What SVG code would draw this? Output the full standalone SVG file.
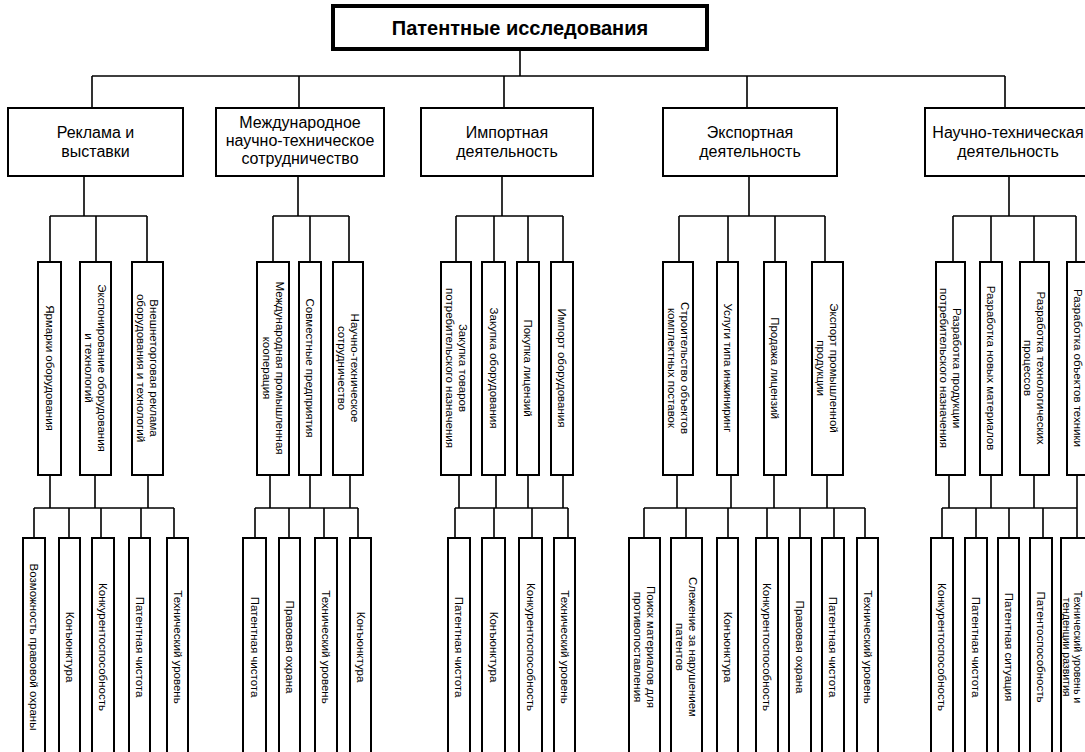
<svg xmlns="http://www.w3.org/2000/svg" width="1085" height="752" viewBox="0 0 1085 752">
<style>
.bx{fill:#fff;stroke:#000;stroke-width:2}
.tb{fill:#fff;stroke:#000;stroke-width:4}
.c{stroke:#000;stroke-width:1.6;fill:none}
text{font-family:"Liberation Sans",Arial,sans-serif;fill:#000}
.tt{font-size:20px;font-weight:bold;text-anchor:middle}
.l1{font-size:16px;text-anchor:middle}
.r{font-size:11.5px;text-anchor:middle}
</style>
<rect width="1085" height="752" fill="#fff"/>
<g id="connectors">
<path class="c" d="M520 49V76M92 76H1005M92 76V108M299 76V108M504 76V108M747 76V108M1005 76V108"/>
<path class="c" d="M84 176V216M50 216H147M50 216V262M96 216V262M147 216V262"/>
<path class="c" d="M298 176V216M273 216H349M273 216V262M310 216V262M349 216V262"/>
<path class="c" d="M502 176V216M456 216H563M456 216V262M494 216V262M528 216V262M563 216V262"/>
<path class="c" d="M749 176V216M679 216H825M679 216V262M728 216V262M775 216V262M825 216V262"/>
<path class="c" d="M1009 176V216M953 216H1076M953 216V262M991 216V262M1034 216V262M1076 216V262"/>
<path class="c" d="M50 475V508M95 475V508M148 475V508M34 508H174M34 508V538M69 508V538M101 508V538M141 508V538M174 508V538"/>
<path class="c" d="M270 475V508M310 475V508M350 475V508M255 508H358M255 508V538M289 508V538M324 508V538M358 508V538"/>
<path class="c" d="M459 475V508M496 475V508M528 475V508M563 475V508M455 508H568M455 508V538M494 508V538M532 508V538M568 508V538"/>
<path class="c" d="M677 475V508M731 475V508M774 475V508M827 475V508M644 508H865M644 508V538M686 508V538M728 508V538M767 508V538M800 508V538M834 508V538M865 508V538"/>
<path class="c" d="M949 475V508M991 475V508M1034 475V508M1077 475V508M942 508H1077M942 508V538M976 508V538M1009 508V538M1043 508V538M1077 508V538"/>
</g>
<g id="root"><rect class="tb" x="333" y="6" width="374" height="43"/><text class="tt" x="520" y="35">Патентные исследования</text></g>
<g id="n1"><rect class="bx" x="8" y="108" width="175" height="68"/><text class="l1"><tspan x="95.5" y="138">Реклама и</tspan><tspan x="95.5" y="157">выставки</tspan></text></g>
<g id="n2"><rect class="bx" x="216" y="108" width="168" height="68"/><text class="l1"><tspan x="300" y="128">Международное</tspan><tspan x="300" y="146">научно-техническое</tspan><tspan x="300" y="164">сотрудничество</tspan></text></g>
<g id="n3"><rect class="bx" x="421" y="108" width="172" height="68"/><text class="l1"><tspan x="507" y="138">Импортная</tspan><tspan x="507" y="157">деятельность</tspan></text></g>
<g id="n4"><rect class="bx" x="663" y="108" width="174" height="68"/><text class="l1"><tspan x="750" y="138">Экспортная</tspan><tspan x="750" y="157">деятельность</tspan></text></g>
<g id="n5"><rect class="bx" x="925" y="108" width="170" height="68"/><text class="l1"><tspan x="1008" y="138">Научно-техническая</tspan><tspan x="1008" y="157">деятельность</tspan></text></g>

<g id="n1a"><rect class="bx" x="38" y="262" width="23" height="213"/><text class="r" transform="translate(49.5,368) rotate(90)" y="4">Ярмарки оборудования</text></g>
<g id="n1b"><rect class="bx" x="80" y="262" width="31" height="213"/><text class="r" transform="translate(95.5,368) rotate(90)"><tspan x="0" y="-2.5">Экспонирование оборудования</tspan><tspan x="0" y="10.5">и технологий</tspan></text></g>
<g id="n1c"><rect class="bx" x="132" y="262" width="31" height="213"/><text class="r" transform="translate(147.5,368) rotate(90)"><tspan x="0" y="-2.5">Внешнеторговая реклама</tspan><tspan x="0" y="10.5">оборудования и технологий</tspan></text></g>

<g id="n2a"><rect class="bx" x="257" y="262" width="32" height="213"/><text class="r" transform="translate(273,368) rotate(90)"><tspan x="0" y="-2.5">Международная промышленная</tspan><tspan x="0" y="10.5">кооперация</tspan></text></g>
<g id="n2b"><rect class="bx" x="299" y="262" width="22" height="213"/><text class="r" transform="translate(310,368) rotate(90)" y="4">Совместные предприятия</text></g>
<g id="n2c"><rect class="bx" x="333" y="262" width="30" height="213"/><text class="r" transform="translate(348,368) rotate(90)"><tspan x="0" y="-2.5">Научно-техническое</tspan><tspan x="0" y="10.5">сотрудничество</tspan></text></g>

<g id="n3a"><rect class="bx" x="441" y="262" width="30" height="213"/><text class="r" transform="translate(456,368) rotate(90)"><tspan x="0" y="-2.5">Закупка товаров</tspan><tspan x="0" y="10.5">потребительского назначения</tspan></text></g>
<g id="n3b"><rect class="bx" x="482" y="262" width="23" height="213"/><text class="r" transform="translate(493.5,368) rotate(90)" y="4">Закупка оборудования</text></g>
<g id="n3c"><rect class="bx" x="517" y="262" width="22" height="213"/><text class="r" transform="translate(528,368) rotate(90)" y="4">Покупка лицензий</text></g>
<g id="n3d"><rect class="bx" x="551" y="262" width="22" height="213"/><text class="r" transform="translate(562,368) rotate(90)" y="4">Импорт оборудования</text></g>

<g id="n4a"><rect class="bx" x="663" y="262" width="30" height="213"/><text class="r" transform="translate(678,368) rotate(90)"><tspan x="0" y="-2.5">Строительство объектов</tspan><tspan x="0" y="10.5">комплектных поставок</tspan></text></g>
<g id="n4b"><rect class="bx" x="717" y="262" width="21" height="213"/><text class="r" transform="translate(727.5,368) rotate(90)" y="4">Услуги типа инжиниринг</text></g>
<g id="n4c"><rect class="bx" x="764" y="262" width="22" height="213"/><text class="r" transform="translate(775,368) rotate(90)" y="4">Продажа лицензий</text></g>
<g id="n4d"><rect class="bx" x="812" y="262" width="31" height="213"/><text class="r" transform="translate(827.5,368) rotate(90)"><tspan x="0" y="-2.5">Экспорт промышленной</tspan><tspan x="0" y="10.5">продукции</tspan></text></g>

<g id="n5a"><rect class="bx" x="936" y="262" width="29" height="213"/><text class="r" transform="translate(950.5,368) rotate(90)"><tspan x="0" y="-2.5">Разработка продукции</tspan><tspan x="0" y="10.5">потребительского назначения</tspan></text></g>
<g id="n5b"><rect class="bx" x="980" y="262" width="22" height="213"/><text class="r" transform="translate(991,368) rotate(90)" y="4">Разработка новых материалов</text></g>
<g id="n5c"><rect class="bx" x="1020" y="262" width="29" height="213"/><text class="r" transform="translate(1034.5,368) rotate(90)"><tspan x="0" y="-2.5">Разработка технологических</tspan><tspan x="0" y="10.5">процессов</tspan></text></g>
<g id="n5d"><rect class="bx" x="1067" y="262" width="24" height="213"/><text class="r" transform="translate(1078,368) rotate(90)" y="4">Разработка объектов техники</text></g>

<g id="n1-1"><rect class="bx" x="23" y="538" width="22" height="230"/><text class="r" transform="translate(34,647) rotate(90)" y="4">Возможность правовой охраны</text></g>
<g id="n1-2"><rect class="bx" x="59" y="538" width="21" height="230"/><text class="r" transform="translate(69.5,647) rotate(90)" y="4">Конъюнктура</text></g>
<g id="n1-3"><rect class="bx" x="92" y="538" width="22" height="230"/><text class="r" transform="translate(103,647) rotate(90)" y="4">Конкурентоспособность</text></g>
<g id="n1-4"><rect class="bx" x="129" y="538" width="21" height="230"/><text class="r" transform="translate(139.5,647) rotate(90)" y="4">Патентная чистота</text></g>
<g id="n1-5"><rect class="bx" x="167" y="538" width="21" height="230"/><text class="r" transform="translate(177.5,647) rotate(90)" y="4">Технический уровень</text></g>

<g id="n2-1"><rect class="bx" x="243" y="538" width="23" height="230"/><text class="r" transform="translate(254.5,647) rotate(90)" y="4">Патентная чистота</text></g>
<g id="n2-2"><rect class="bx" x="279" y="538" width="21" height="230"/><text class="r" transform="translate(289.5,647) rotate(90)" y="4">Правовая охрана</text></g>
<g id="n2-3"><rect class="bx" x="315" y="538" width="22" height="230"/><text class="r" transform="translate(326,647) rotate(90)" y="4">Технический уровень</text></g>
<g id="n2-4"><rect class="bx" x="350" y="538" width="21" height="230"/><text class="r" transform="translate(360.5,647) rotate(90)" y="4">Конъюнктура</text></g>

<g id="n3-1"><rect class="bx" x="448" y="538" width="22" height="230"/><text class="r" transform="translate(459,647) rotate(90)" y="4">Патентная чистота</text></g>
<g id="n3-2"><rect class="bx" x="482" y="538" width="23" height="230"/><text class="r" transform="translate(493.5,647) rotate(90)" y="4">Конъюнктура</text></g>
<g id="n3-3"><rect class="bx" x="519" y="538" width="23" height="230"/><text class="r" transform="translate(530.5,647) rotate(90)" y="4">Конкурентоспособность</text></g>
<g id="n3-4"><rect class="bx" x="554" y="538" width="21" height="230"/><text class="r" transform="translate(564.5,647) rotate(90)" y="4">Технический уровень</text></g>

<g id="n4-1"><rect class="bx" x="629" y="538" width="31" height="230"/><text class="r" transform="translate(644.5,647) rotate(90)"><tspan x="0" y="-2.5">Поиск материалов для</tspan><tspan x="0" y="10.5">противопоставления</tspan></text></g>
<g id="n4-2"><rect class="bx" x="671" y="538" width="31" height="230"/><text class="r" transform="translate(686.5,647) rotate(90)"><tspan x="0" y="-2.5">Слежение за нарушением</tspan><tspan x="0" y="10.5">патентов</tspan></text></g>
<g id="n4-3"><rect class="bx" x="717" y="538" width="21" height="230"/><text class="r" transform="translate(727.5,647) rotate(90)" y="4">Конъюнктура</text></g>
<g id="n4-4"><rect class="bx" x="756" y="538" width="22" height="230"/><text class="r" transform="translate(767,647) rotate(90)" y="4">Конкурентоспособность</text></g>
<g id="n4-5"><rect class="bx" x="789" y="538" width="22" height="230"/><text class="r" transform="translate(800,647) rotate(90)" y="4">Правовая охрана</text></g>
<g id="n4-6"><rect class="bx" x="822" y="538" width="22" height="230"/><text class="r" transform="translate(833,647) rotate(90)" y="4">Патентная чистота</text></g>
<g id="n4-7"><rect class="bx" x="857" y="538" width="21" height="230"/><text class="r" transform="translate(867.5,647) rotate(90)" y="4">Технический уровень</text></g>

<g id="n5-1"><rect class="bx" x="931" y="538" width="22" height="230"/><text class="r" transform="translate(942,647) rotate(90)" y="4">Конкурентоспособность</text></g>
<g id="n5-2"><rect class="bx" x="965" y="538" width="22" height="230"/><text class="r" transform="translate(976,647) rotate(90)" y="4">Патентная чистота</text></g>
<g id="n5-3"><rect class="bx" x="998" y="538" width="21" height="230"/><text class="r" transform="translate(1008.5,647) rotate(90)" y="4">Патентная ситуация</text></g>
<g id="n5-4"><rect class="bx" x="1030" y="538" width="22" height="230"/><text class="r" transform="translate(1041,647) rotate(90)" y="4">Патентоспособность</text></g>
<g id="n5-5"><rect class="bx" x="1061" y="538" width="36" height="230"/><text class="r" style="font-size:10.5px" transform="translate(1071,647) rotate(90)"><tspan x="0" y="-3">Технический уровень и</tspan><tspan x="0" y="8">тенденции развития</tspan></text></g>
</svg>
